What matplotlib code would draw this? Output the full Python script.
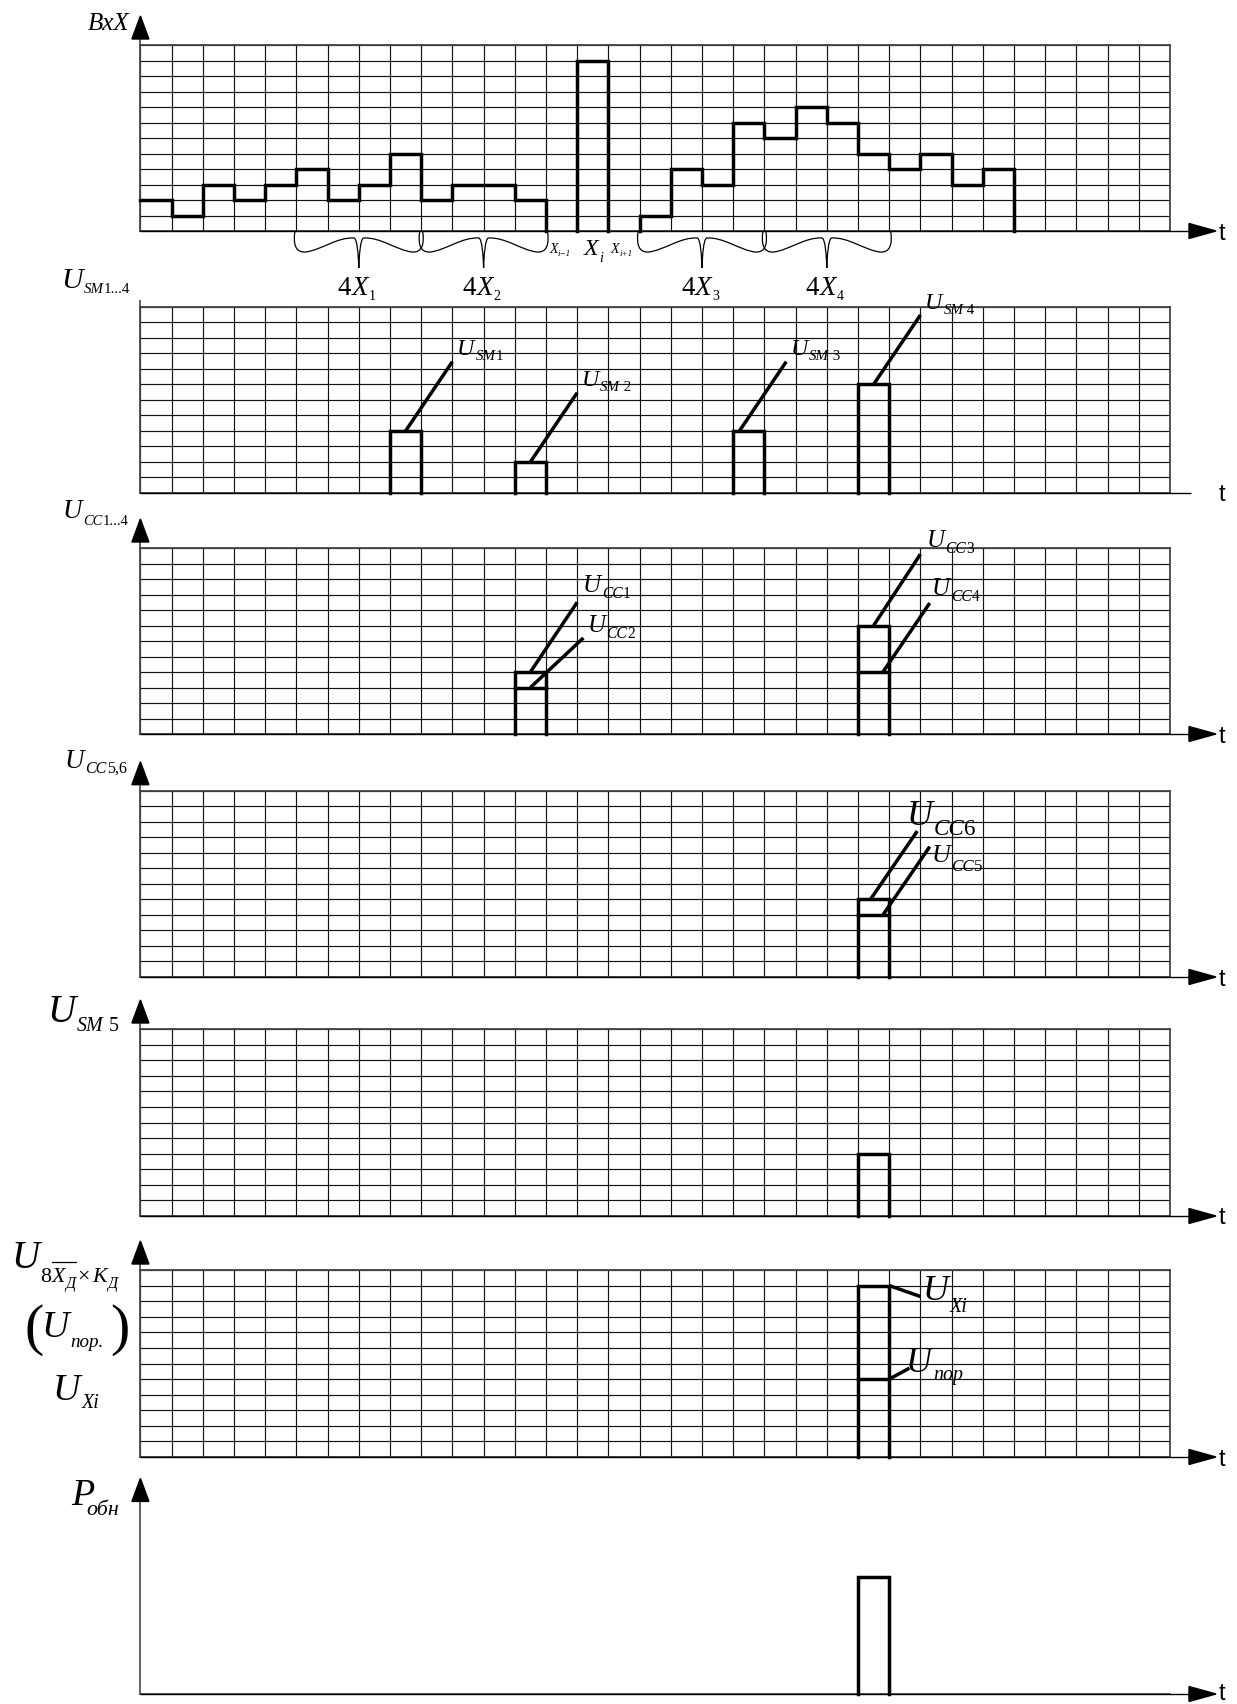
import numpy as np
import matplotlib
matplotlib.use('Agg')
import matplotlib.pyplot as plt
from matplotlib.patches import Polygon, PathPatch
from matplotlib.path import Path
from matplotlib.lines import Line2D

# ---------------- data ----------------
N_COLS = 33
N_ROWS = 12
bxx_left_start = 0
bxx_left_vals = [2, 1, 3, 2, 3, 4, 2, 3, 5, 2, 3, 3, 2]
xi_col = 14
xi_val = 11
bxx_right_start = 16
bxx_right_vals = [1, 4, 3, 7, 6, 8, 7, 5, 4, 5, 3, 4]
brace_starts = [5, 9, 16, 20]
brace_labels = ['1', '2', '3', '4']

sm_cols = [8, 12, 19, 23]
sm_vals = [4, 2, 4, 7]
sm_names = ['1', ' 2', ' 3', ' 4']

cc_cols = [12, 23]
cc_top_vals = [4, 7]      # U_CC1, U_CC3
cc_low_vals = [3, 4]      # U_CC2, U_CC4
cc_top_names = ['1', '3']
cc_low_names = ['2', '4']

cc56_col = 23
cc6_val = 5
cc5_val = 4

sm5_col = 23
sm5_val = 4

uxi_col = 23
uxi_val = 11
upor_val = 5

pobn_col = 23
pobn_val = 7.5

# ---------------- layout ----------------
W, H = 1237, 1704
fig = plt.figure(figsize=(W / 100, H / 100), dpi=100)
renderer = fig.canvas.get_renderer()
SERIF = 'Liberation Serif'
SANS = 'Liberation Sans'
GL, CW = 140.4, 31.2
panels_px = [(45, 231), (306.7, 493), (548, 734), (790.7, 977),
             (1029, 1216), (1270, 1457), (1507.4, 1694)]
THICK = 2.5
GRID_C = '#141414'
T_X = 1219

axes = []
for i, (t, b) in enumerate(panels_px):
    ax = fig.add_axes([GL / W, 1 - b / H, N_COLS * CW / W, (b - t) / H])
    ax.set_xlim(0, N_COLS)
    ax.set_ylim(0, N_ROWS)
    ax.set_xticks(np.arange(N_COLS + 1))
    ax.set_yticks(np.arange(N_ROWS + 1))
    ax.tick_params(length=0, labelbottom=False, labelleft=False)
    ax.patch.set_visible(False)
    if i < 6:
        ax.grid(True, color=GRID_C, lw=0.85)
        for s in ax.spines.values():
            s.set_color('#444444')
            s.set_linewidth(1.3)
    else:
        ax.grid(False)
        ax.spines['top'].set_visible(False)
        ax.spines['right'].set_visible(False)
        for s in ('left', 'bottom'):
            ax.spines[s].set_color('#555555')
            ax.spines[s].set_linewidth(1.3)
    ax.set_axisbelow(True)
    ax._dyp = N_ROWS / (b - t)
    axes.append(ax)


def rich_img(x, y, parts):
    """parts: (text, size_px, dy_px, style, gap_px); x,y image px (baseline)."""
    for s, size, dy, style, gap in parts:
        x += gap
        tt = fig.text(x / W, (H - (y + dy)) / H, s, fontsize=size * 0.72,
                      fontstyle=style, family=SERIF, ha='left', va='baseline')
        bb = tt.get_window_extent(renderer)
        x = bb.x1
    return x


def data2img(ax, xd, yd):
    d = ax.transData.transform((xd, yd))
    return d[0], H - d[1]


def rich_data(ax, xd, yd, parts):
    x, y = data2img(ax, xd, yd)
    return rich_img(x, y, parts)


def x_axis(ax, arrow=True, t_shift_px=0):
    dyp = ax._dyp
    end_px = 1189 if arrow else 1191
    x_end = (end_px - GL) / CW
    ax.plot([0, x_end], [0, 0], color='black', lw=1.0, clip_on=False,
            solid_capstyle='butt', zorder=3)
    if arrow:
        tip = (1216 - GL) / CW
        hw = 7.5 * dyp
        ax.add_patch(Polygon([[x_end, hw], [x_end, -hw], [tip, 0]], closed=True,
                             color='black', clip_on=False, zorder=3))
    ax.text((T_X - GL) / CW, t_shift_px * dyp, 't', family=SANS, fontsize=17, ha='left',
            va='center_baseline', clip_on=False)


def y_arrow(ax, arrow=True):
    dyp = ax._dyp
    base = N_ROWS + 6 * dyp
    ax.plot([0, 0], [N_ROWS, base + (0 if arrow else 0.7 * dyp)], color='#555555',
            lw=1.3, clip_on=False, solid_capstyle='butt')
    if arrow:
        tip = N_ROWS + 29 * dyp
        hw = 8.5 / CW
        ax.add_patch(Polygon([[-hw, base], [hw, base], [0, tip]], closed=True,
                             color='black', clip_on=False, zorder=3))


def bar(ax, col, h, lw=THICK):
    ax.plot([col, col, col + 1, col + 1], [0, h, h, 0], color='black', lw=lw,
            solid_joinstyle='miter', clip_on=False, zorder=4)


def hseg(ax, col, h, lw=THICK):
    ax.plot([col, col + 1], [h, h], color='black', lw=lw, clip_on=False, zorder=4)


def leader(ax, p0, p1):
    ax.plot([p0[0], p1[0]], [p0[1], p1[1]], color='black', lw=THICK,
            solid_capstyle='butt', clip_on=False, zorder=4)


def step_xy(start, vals):
    edges = start + np.arange(len(vals) + 1)
    xs = np.repeat(edges, 2)[1:-1]
    ys = np.repeat(np.asarray(vals, float), 2)
    return xs, ys


for i, ax in enumerate(axes):
    x_axis(ax, arrow=(i != 1), t_shift_px=(3 if i == 6 else 0))
    y_arrow(ax, arrow=(i != 1))

# ---------------- panel 1: BxX ----------------
ax = axes[0]
xs, ys = step_xy(bxx_left_start, bxx_left_vals)
xs = np.append(xs, xs[-1]); ys = np.append(ys, 0)
ax.plot(xs, ys, color='black', lw=THICK, solid_joinstyle='miter', zorder=4, clip_on=False)
bar(ax, xi_col, xi_val)
xs, ys = step_xy(bxx_right_start, bxx_right_vals)
xs = np.concatenate([[xs[0]], xs, [xs[-1]]]); ys = np.concatenate([[0], ys, [0]])
ax.plot(xs, ys, color='black', lw=THICK, solid_joinstyle='miter', zorder=4, clip_on=False)

dyp = ax._dyp
brace_shape = [(-0.05, 1), (-0.1, 12), (-0.05, 22), (0.3, 21),
               (0.8, 19), (1.3, 6), (1.85, 7),
               (1.95, 8), (1.99, 25), (2.0, 37),
               (2.01, 25), (2.05, 8), (2.15, 7),
               (2.7, 6), (3.2, 19), (3.7, 21),
               (4.05, 22), (4.1, 12), (4.05, 1)]
codes = [Path.MOVETO] + [Path.CURVE4] * (len(brace_shape) - 1)
for s, lab in zip(brace_starts, brace_labels):
    verts = [(s + u, -v * dyp) for u, v in brace_shape]
    ax.add_patch(PathPatch(Path(verts, codes), fill=False, lw=0.9, color='black',
                           clip_on=False))
    cx, _ = data2img(ax, s + 2, 0)
    rich_img(cx - 21, 295, [('4', 27, 0, 'normal', 0), ('X', 27, 0, 'italic', 0.5),
                           (lab, 14, 5, 'normal', 0.5)])

rich_img(88, 30, [('BxX', 25, 0, 'italic', 0)])
rich_img(549, 253.3, [('X', 14, 0, 'italic', 0), ('i−1', 9, 3, 'italic', 0.5)])
rich_img(584, 255, [('X', 24, 0, 'italic', 0), ('i', 14, 7, 'italic', 1)])
rich_img(610, 253.3, [('X', 14, 0, 'italic', 0), ('i+1', 9, 3, 'italic', 0.5)])

# ---------------- panel 2: U_SM1..4 ----------------
ax = axes[1]
rich_img(61, 288, [('U', 30, 0, 'italic', 0), ('SM', 15, 5, 'italic', 1),
                   ('1...4', 15, 5, 'normal', 0)])
sm_starts = [0.5, 0.5, 0.2, 0.5]
for c, v, nm, st in zip(sm_cols, sm_vals, sm_names, sm_starts):
    bar(ax, c, v)
    p0 = (c + st, v)
    p1 = (c + st + 1.5, v + 4.46)
    leader(ax, p0, p1)
    rich_data(ax, p1[0] + 0.15, p1[1] + 0.42,
              [('U', 24, 0, 'italic', 0), ('SM', 15, 5, 'italic', 1), (nm, 15, 5, 'normal', 0)])

# ---------------- panel 3: U_CC1..4 ----------------
ax = axes[2]
rich_img(63, 518, [('U', 27, 0, 'italic', 0), ('CC', 14.5, 7, 'italic', 1),
                   ('1...4', 14.5, 7, 'normal', 0)])
cc_top_lead = [((12.5, 4), (14.0, 8.5)), ((23.5, 7), (25.0, 11.6))]
cc_low_lead = [((12.5, 3), (14.2, 6.2)), ((23.8, 4), (25.3, 8.45))]
cc_top_lab = [(14.19, 9.18), (25.2, 12.08)]
cc_low_lab = [(14.33, 6.6), (25.37, 8.97)]
for k in range(2):
    c = cc_cols[k]
    bar(ax, c, cc_top_vals[k])
    hseg(ax, c, cc_low_vals[k])
    leader(ax, *cc_top_lead[k])
    leader(ax, *cc_low_lead[k])
    rich_data(ax, *cc_top_lab[k], [('U', 25, 0, 'italic', 0), ('CC', 15.5, 6, 'italic', 1),
                                   (cc_top_names[k], 15.5, 6, 'normal', 0)])
    rich_data(ax, *cc_low_lab[k], [('U', 25, 0, 'italic', 0), ('CC', 15.5, 6, 'italic', 1),
                                   (cc_low_names[k], 15.5, 6, 'normal', 0)])

# ---------------- panel 4: U_CC5,6 ----------------
ax = axes[3]
rich_img(65, 768, [('U', 27, 0, 'italic', 0), ('CC', 16, 5, 'italic', 1),
                   ('5,6', 16, 5, 'normal', 0)])
bar(ax, cc56_col, cc6_val)
hseg(ax, cc56_col, cc5_val)
leader(ax, (cc56_col + 0.4, cc6_val), (cc56_col + 1.9, cc6_val + 4.4))
leader(ax, (cc56_col + 0.8, cc5_val), (cc56_col + 2.3, cc5_val + 4.4))
rich_data(ax, 24.56, 9.77, [('U', 36, 0, 'italic', 0), ('CC', 23, 10, 'italic', 1),
                            ('6', 23, 10, 'normal', 0)])
rich_data(ax, 25.36, 7.41, [('U', 26, 0, 'italic', 0), ('CC', 17, 9, 'italic', 1),
                            ('5', 17, 9, 'normal', 0)])

# ---------------- panel 5: U_SM5 ----------------
ax = axes[4]
rich_img(47, 1022, [('U', 39, 0, 'italic', 0), ('SM', 20, 9, 'italic', 2),
                    (' 5', 20, 9, 'normal', 0)])
bar(ax, sm5_col, sm5_val)

# ---------------- panel 6 ----------------
ax = axes[5]
x = rich_img(11, 1268, [('U', 39, 0, 'italic', 0), ('8', 22, 14, 'normal', 1)])
xo0 = x + 1
x = rich_img(x, 1268, [('X', 22, 14, 'italic', 1), ('Д', 16, 20, 'italic', 0)])
xo1 = x
fig.add_artist(Line2D([xo0 / W, xo1 / W], [(H - 1261.5) / H] * 2, color='black', lw=0.9))
rich_img(x, 1268, [('×', 22, 14, 'normal', 2), ('K', 22, 14, 'italic', 2),
                   ('Д', 16, 20, 'italic', 0)])
rich_img(24, 1344, [('(', 58, 0, 'normal', 0)])
rich_img(42, 1337, [('U', 38, 0, 'italic', 0), ('пор.', 19, 10, 'italic', 1)])
rich_img(110, 1344, [(')', 58, 0, 'normal', 0)])
rich_img(53, 1400, [('U', 38, 0, 'italic', 0), ('Xi', 20, 8, 'italic', 1)])

bar(ax, uxi_col, uxi_val)
hseg(ax, uxi_col, upor_val)
leader(ax, (uxi_col + 1, uxi_val), (uxi_col + 2.0, uxi_val - 0.7))
leader(ax, (uxi_col + 1, upor_val), (uxi_col + 1.65, upor_val + 0.7))
rich_data(ax, 25.07, 10.1, [('U', 36, 0, 'italic', 0), ('Xi', 20, 12, 'italic', 1)])
rich_data(ax, 24.54, 5.48, [('U', 36, 0, 'italic', 0), ('пор', 20, 8, 'italic', 1)])

# ---------------- panel 7: P_обн ----------------
ax = axes[6]
rich_img(71, 1505, [('P', 38, 0, 'italic', 0)])
rich_img(86, 1515, [('обн', 22, 0, 'italic', 0)])
bar(ax, pobn_col, pobn_val)

fig.savefig('out.png', dpi=100)
